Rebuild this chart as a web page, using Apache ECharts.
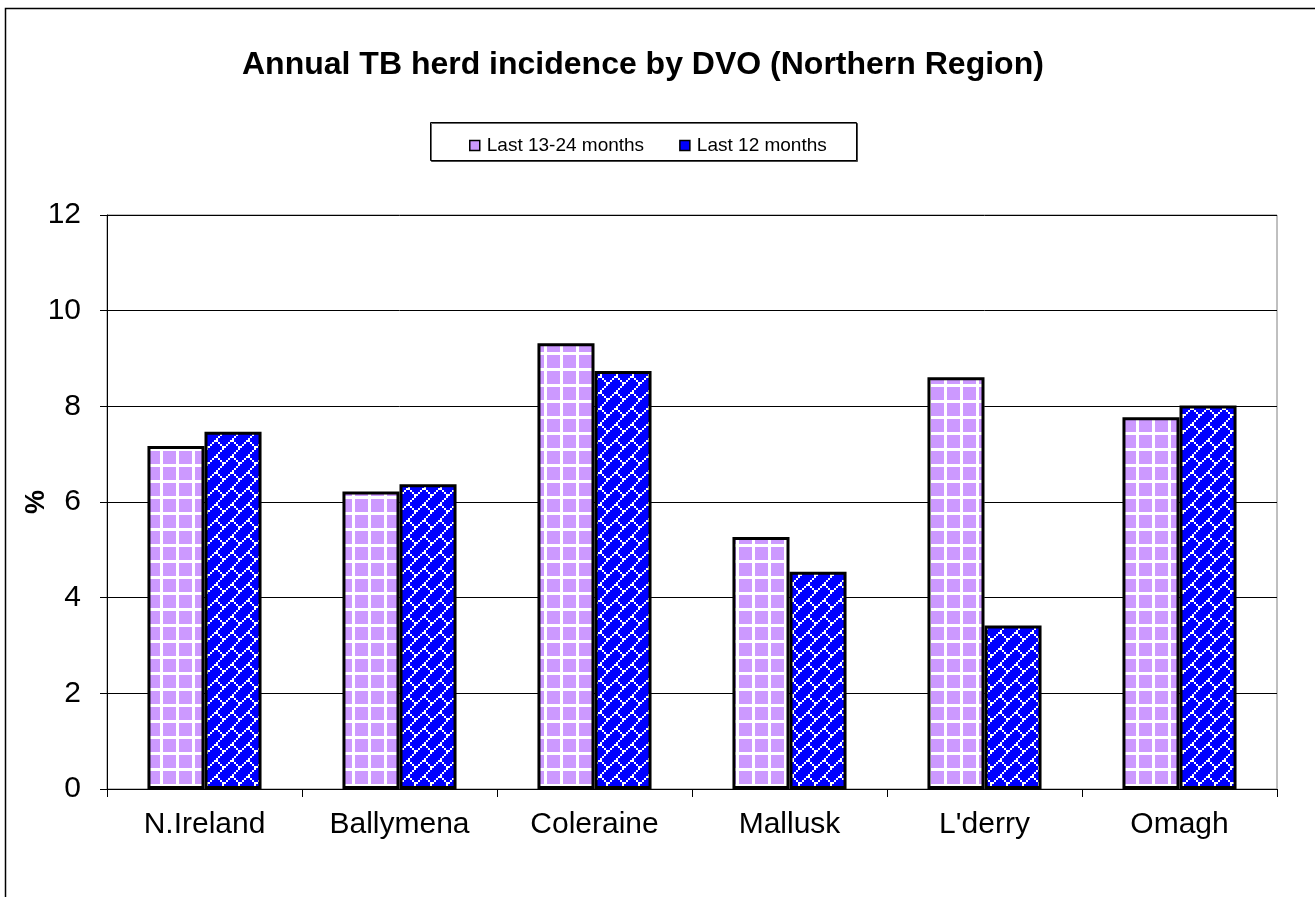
<!DOCTYPE html>
<html><head><meta charset="utf-8">
<script src="https://cdn.jsdelivr.net/npm/echarts@6/dist/echarts.min.js"></script>
<style>html,body{margin:0;padding:0;background:#fff}#c{width:1315px;height:897px}</style>
</head><body><div id="c"></div>
<script>
var categories = ["N.Ireland", "Ballymena", "Coleraine", "Mallusk", "L'derry", "Omagh"];
var seriesNames = ["Last 13-24 months", "Last 12 months"];
var prevValues = [7.17, 6.22, 9.32, 5.27, 8.61, 7.77];
var lastValues = [7.47, 6.37, 8.74, 4.54, 3.42, 8.02];
var yTicks = [0, 2, 4, 6, 8, 10, 12];

function gridPattern() {
  var c = document.createElement('canvas'); c.width = 16; c.height = 16;
  var g = c.getContext('2d');
  g.fillStyle = '#CC99FF'; g.fillRect(0, 0, 16, 16);
  g.fillStyle = '#FFFFFF'; g.fillRect(0, 0, 3, 16); g.fillRect(0, 0, 16, 3);
  return c;
}
function brickPattern() {
  var rows = [0x01, 0x02, 0x04, 0x08, 0x18, 0x24, 0x42, 0x81];
  var c = document.createElement('canvas'); c.width = 16; c.height = 16;
  var g = c.getContext('2d');
  g.fillStyle = '#0000FF'; g.fillRect(0, 0, 16, 16);
  g.fillStyle = '#FFFFFF';
  for (var r = 0; r < 8; r++) for (var b = 0; b < 8; b++) {
    if (rows[r] & (1 << b)) g.fillRect((7 - b) * 2, r * 2, 2, 2);
  }
  return c;
}

var chart = echarts.init(document.getElementById('c'), null, {renderer: 'canvas'});
var font = 'Liberation Sans, Arial, sans-serif';
chart.setOption({
  animation: false,
  backgroundColor: '#fff',
  graphic: [
    {type: 'rect', shape: {x: 5.5, y: 8.5, width: 1320, height: 900}, style: {fill: 'none', stroke: '#000', lineWidth: 1.5}, z: -1},
    {type: 'rect', shape: {x: 430.5, y: 122.5, width: 426, height: 38}, style: {fill: '#fff', stroke: '#000', lineWidth: 1, shadowColor: 'rgba(0,0,0,0.6)', shadowOffsetX: 1, shadowOffsetY: 1}, z: -1},
    {type: 'text', rotation: Math.PI / 2, style: {text: '%', font: 'bold 27px ' + font, fill: '#000', align: 'center', verticalAlign: 'middle'}, x: 37, y: 502}
  ],
  title: {
    text: 'Annual TB herd incidence by DVO (Northern Region)',
    left: 237, top: 44,
    textStyle: {fontFamily: font, fontWeight: 'bold', fontSize: 32, color: '#000'}
  },
  legend: {
    left: 464, top: 131,
    itemWidth: 10, itemHeight: 10, itemGap: 35,
    icon: 'rect',
    textStyle: {fontFamily: font, fontSize: 19, color: '#000', padding: [0, 0, 0, 2]},
    data: [
      {name: seriesNames[0], itemStyle: {color: '#CC99FF', borderColor: '#000', borderWidth: 1.5}},
      {name: seriesNames[1], itemStyle: {color: '#0000FF', borderColor: '#000', borderWidth: 1.5}}
    ]
  },
  grid: {left: 107, top: 215, width: 1170, height: 574, show: true, borderColor: '#808080', borderWidth: 1},
  xAxis: {
    type: 'category', data: categories,
    axisLine: {lineStyle: {color: '#000', width: 1}},
    axisTick: {show: true, length: 8, lineStyle: {color: '#000'}},
    axisLabel: {fontFamily: font, fontSize: 30, color: '#000', margin: 21}
  },
  yAxis: {
    type: 'value', min: 0, max: 12, interval: 2,
    axisLine: {show: true, lineStyle: {color: '#000', width: 1}},
    axisTick: {show: true, length: 7, lineStyle: {color: '#000'}},
    splitLine: {lineStyle: {color: '#000', width: 1}},
    axisLabel: {fontFamily: font, fontSize: 30, color: '#000', margin: 26,
      formatter: function (v) { return yTicks.indexOf(v) >= 0 ? String(v) : ''; }}
  },
  series: [
    {name: seriesNames[0], type: 'bar', data: prevValues, barGap: '0%', barCategoryGap: '41.5%',
      itemStyle: {color: {image: gridPattern(), repeat: 'repeat'}, borderColor: '#000', borderWidth: 3}},
    {name: seriesNames[1], type: 'bar', data: lastValues, barGap: '0%', barCategoryGap: '41.5%',
      itemStyle: {color: {image: brickPattern(), repeat: 'repeat'}, borderColor: '#000', borderWidth: 3}}
  ]
});
</script></body></html>
